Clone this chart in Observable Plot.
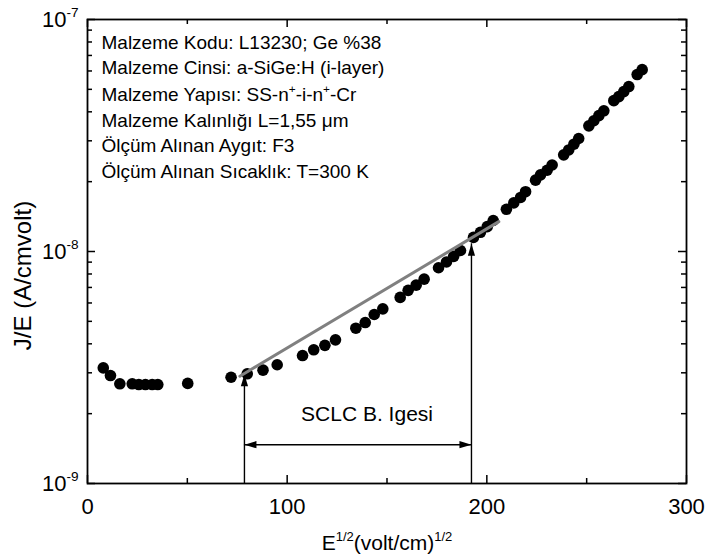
<!DOCTYPE html>
<html>
<head>
<meta charset="utf-8">
<script src="https://cdn.jsdelivr.net/npm/d3@7"></script>
<script src="https://cdn.jsdelivr.net/npm/@observablehq/plot@0.6"></script>
<style>
  html, body { margin: 0; padding: 0; background: #fff; }
  #chart svg { display: block; }
</style>
</head>
<body>
<div id="chart"></div>
<script>
// Measured J/E against square root of the applied field
const fieldRoot = [7.9, 11.5, 16.2, 22.4, 25.7, 29.0, 32.4, 35.2, 50.2,
  71.9, 80.0, 87.9, 95.0, 107.7, 113.3, 118.9, 124.2, 134.4, 139.1, 143.6, 147.9,
  156.6, 160.6, 164.6, 168.6, 175.8, 179.8, 183.4, 186.8, 193.3, 196.8, 200.2, 203.2,
  209.8, 213.5, 216.9, 219.4, 224.4, 226.9, 230.2, 232.7, 238.5, 241.0, 243.6, 246.0,
  251.1, 253.6, 256.1, 258.6, 263.6, 266.1, 268.6, 271.1, 275.3, 277.8];
const jOverE = [3.15e-9, 2.92e-9, 2.69e-9, 2.69e-9, 2.67e-9, 2.67e-9, 2.67e-9, 2.67e-9, 2.70e-9,
  2.87e-9, 2.97e-9, 3.08e-9, 3.25e-9, 3.56e-9, 3.77e-9, 3.94e-9, 4.16e-9, 4.67e-9, 4.94e-9, 5.35e-9, 5.66e-9,
  6.34e-9, 6.80e-9, 7.16e-9, 7.60e-9, 8.51e-9, 9.01e-9, 9.53e-9, 1.01e-8, 1.15e-8, 1.21e-8, 1.28e-8, 1.36e-8,
  1.52e-8, 1.62e-8, 1.71e-8, 1.81e-8, 2.03e-8, 2.14e-8, 2.24e-8, 2.36e-8, 2.61e-8, 2.74e-8, 2.90e-8, 3.07e-8,
  3.48e-8, 3.66e-8, 3.85e-8, 4.04e-8, 4.47e-8, 4.65e-8, 4.89e-8, 5.14e-8, 5.79e-8, 6.08e-8];

// Straight (exponential) fit through the SCLC region
const fitX = [76.3, 206.0];
const fitY = [2.90e-9, 1.345e-8];

// Boundaries of the SCLC region and the arrow levels
const regionX = [78.6, 192.3];
const regionTipY = [2.96e-9, 1.08e-8];
const regionSpanY = 1.47e-9;
const regionText = "SCLC B. Igesi";
const regionTextX = 140;
const regionTextY = 1.99e-9;

// Axes
const xDomain = [0, 300];
const yDomain = [1e-9, 1e-7];
const xTicks = [0, 100, 200, 300];
const xMinorTicks = [50, 150, 250];
const yTicks = [1e-9, 1e-8, 1e-7];
const yMinorTicks = [2e-9, 3e-9, 4e-9, 5e-9, 6e-9, 7e-9, 8e-9, 9e-9,
  2e-8, 3e-8, 4e-8, 5e-8, 6e-8, 7e-8, 8e-8, 9e-8];
const xTitle = "E^{1/2}(volt/cm)^{1/2}";
const yTitle = "J/E (A/cmvolt)";

// Sample information block
const infoLines = [
  "Malzeme Kodu: L13230; Ge %38",
  "Malzeme Cinsi: a-SiGe:H (i-layer)",
  "Malzeme Yapısı: SS-n^{+}-i-n^{+}-Cr",
  "Malzeme Kalınlığı L=1,55 μm",
  "Ölçüm Alınan Aygıt: F3",
  "Ölçüm Alınan Sıcaklık: T=300 K"
];

const W = 706, H = 560;
const M = {top: 19, right: 20, bottom: 77, left: 87};
const frameH = H - M.top - M.bottom;
const frameW = W - M.left - M.right;
const FONT = 19;

const points = fieldRoot.map((x, i) => ({x, y: jOverE[i]}));
const fit = fitX.map((x, i) => ({x, y: fitY[i]}));
const guides = regionX.map((x, i) => ({x, tip: regionTipY[i]}));

// Narrow filled arrowhead with its tip at the origin, pointing up
const arrowTip = {
  draw(context) {
    context.moveTo(0, 0);
    context.lineTo(3.6, 12);
    context.lineTo(-3.6, 12);
    context.closePath();
  }
};
const heads = [
  {x: regionX[0], y: regionTipY[0], angle: 0},
  {x: regionX[1], y: regionTipY[1], angle: 0},
  {x: regionX[0], y: regionSpanY, angle: -90},
  {x: regionX[1], y: regionSpanY, angle: 90}
];

const ink = "#000";
const tickMarks = [
  Plot.tickX(xTicks, {x: d => d, insetTop: frameH - 8, stroke: ink, strokeWidth: 1.5}),
  Plot.tickX(xMinorTicks, {x: d => d, insetTop: frameH - 5, stroke: ink, strokeWidth: 1.5}),
  Plot.tickX(xTicks, {x: d => d, insetBottom: frameH - 8, stroke: ink, strokeWidth: 1.5}),
  Plot.tickX(xMinorTicks, {x: d => d, insetBottom: frameH - 5, stroke: ink, strokeWidth: 1.5}),
  Plot.tickY(yTicks, {y: d => d, insetRight: frameW - 8, stroke: ink, strokeWidth: 1.5}),
  Plot.tickY(yMinorTicks, {y: d => d, insetRight: frameW - 5, stroke: ink, strokeWidth: 1.5}),
  Plot.tickY(yTicks, {y: d => d, insetLeft: frameW - 8, stroke: ink, strokeWidth: 1.5}),
  Plot.tickY(yMinorTicks, {y: d => d, insetLeft: frameW - 5, stroke: ink, strokeWidth: 1.5})
];

const infoMarks = infoLines.map((line, i) =>
  Plot.text([line], {
    frameAnchor: "top-left",
    dx: 14,
    dy: 23 + i * 25.5 + (i >= 2 ? 1.5 : 0),
    textAnchor: "start",
    lineAnchor: "middle",
    fontSize: FONT,
    fill: ink
  })
);

const chart = Plot.plot({
  width: W,
  height: H,
  marginTop: M.top,
  marginRight: M.right,
  marginBottom: M.bottom,
  marginLeft: M.left,
  style: {fontFamily: "'Liberation Sans', Arial, Helvetica, sans-serif", fontSize: FONT + "px", background: "#fff", color: ink},
  x: {domain: xDomain},
  y: {type: "log", domain: yDomain},
  marks: [
    Plot.ruleX(guides, {x: "x", y1: () => yDomain[0], y2: d => d.tip, stroke: ink, strokeWidth: 1.4}),
    Plot.ruleY([regionSpanY], {y: d => d, x1: () => regionX[0], x2: () => regionX[1], stroke: ink, strokeWidth: 1.4}),
    Plot.dot(heads, {x: "x", y: "y", rotate: "angle", symbol: arrowTip, r: 4, fill: ink, stroke: "none"}),
    Plot.dot(points, {x: "x", y: "y", r: 5.8, fill: ink, stroke: "none"}),
    Plot.line(fit, {x: "x", y: "y", stroke: "#808080", strokeWidth: 3}),
    Plot.text([regionText], {x: () => regionTextX, y: () => regionTextY, fontSize: 21, fill: ink}),
    ...infoMarks,
    ...tickMarks,
    Plot.frame({stroke: ink, strokeWidth: 1.8}),
    Plot.axisX(xTicks, {anchor: "bottom", tickSize: 0, tickPadding: 15, label: null, fontSize: 22,
      tickFormat: d => String(d), fill: ink}),
    Plot.axisY(yTicks, {anchor: "left", tickSize: 0, tickPadding: 9, label: null, fontSize: 22,
      tickFormat: d => `10^{${Math.round(Math.log10(d))}}`, fill: ink}),
    Plot.text([xTitle], {frameAnchor: "bottom", dy: 66, fontSize: 21, fill: ink}),
    Plot.text([yTitle], {frameAnchor: "left", dx: -64, dy: 24, rotate: -90, textAnchor: "middle",
      fontSize: 24, fill: ink})
  ]
});

document.getElementById("chart").appendChild(chart);

// Turn ^{...} runs into raised, smaller tspans
function applySuperscripts(svg) {
  svg.querySelectorAll("text").forEach(t => {
    const s = t.textContent;
    if (!s.includes("^{")) return;
    const fs = parseFloat(getComputedStyle(t).fontSize) || FONT;
    const shift = 0.42 * fs;
    const ns = "http://www.w3.org/2000/svg";
    const parts = s.split(/(\^\{[^}]*\})/).filter(p => p.length);
    while (t.firstChild) t.removeChild(t.firstChild);
    let raised = false;
    parts.forEach(p => {
      const span = document.createElementNS(ns, "tspan");
      if (p.startsWith("^{")) {
        span.textContent = p.slice(2, -1);
        span.setAttribute("font-size", (0.62 * fs).toFixed(1));
        if (!raised) span.setAttribute("dy", (-shift).toFixed(1));
        raised = true;
      } else {
        span.textContent = p;
        if (raised) span.setAttribute("dy", shift.toFixed(1));
        raised = false;
      }
      t.appendChild(span);
    });
  });
}
applySuperscripts(chart);
</script>
</body>
</html>
